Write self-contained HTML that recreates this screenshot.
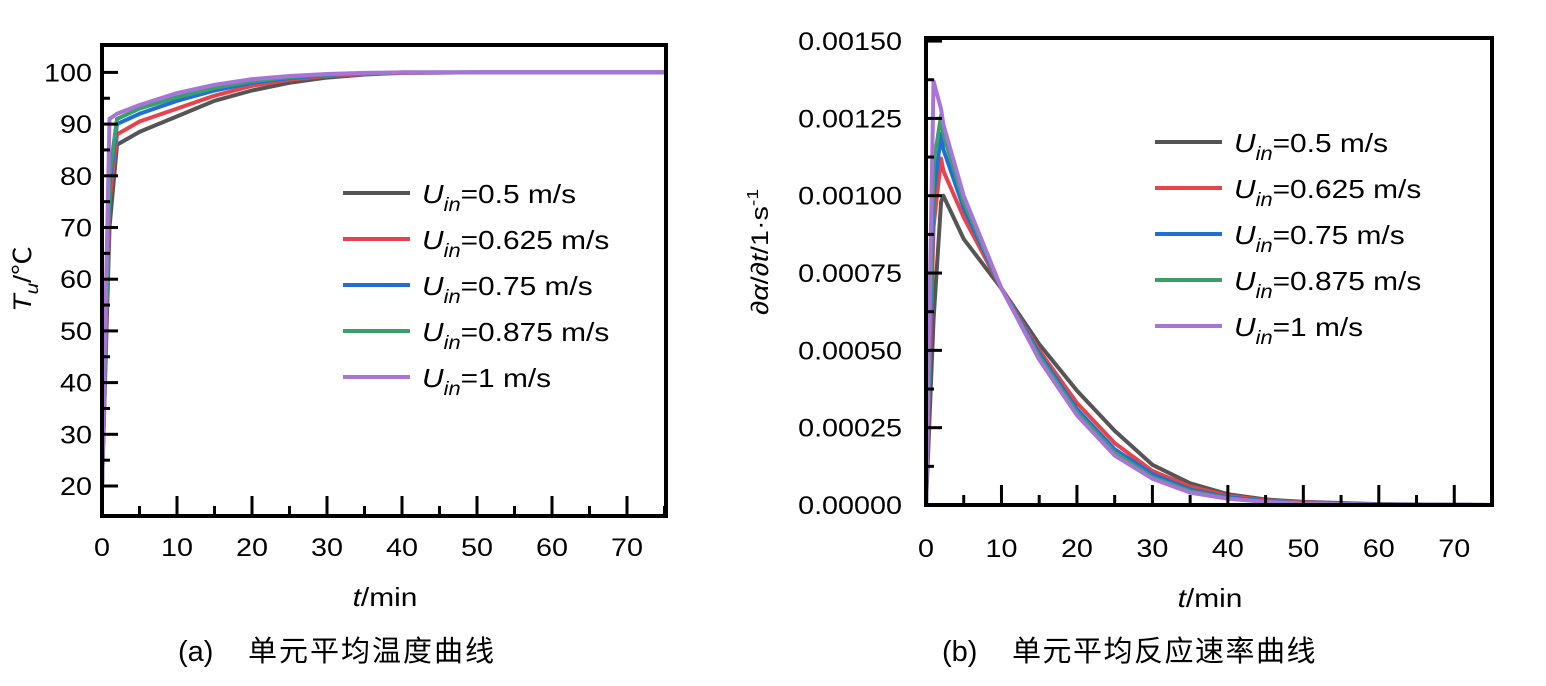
<!DOCTYPE html>
<html><head><meta charset="utf-8">
<style>
body{margin:0;background:#fff;}
svg{display:block;font-family:"Liberation Sans","Noto Sans CJK SC",sans-serif;}
</style></head>
<body>
<svg id="chart" width="1546" height="686" viewBox="0 0 1546 686" xmlns="http://www.w3.org/2000/svg">
<g id="left"></g>
<g id="right"></g>
</svg>
<script>
const NS="http://www.w3.org/2000/svg";
const seriesNames=["0.5","0.625","0.75","0.875","1"];
const colors=["#555555","#e8434a","#1f6fd6","#3a9f6a","#a874d8"];
// Left chart data
const tTimes=[0,1,2,5,10,15,20,25,30,35,40,50,60,75];
const tGray=[20,70,86,88.5,91.5,94.5,96.5,98,99,99.6,99.9,100,100,100];
const tRed=[20,75,88,90.5,93,95.5,97.4,98.6,99.3,99.7,99.9,100,100,100];
const tBlue=[20,78,90,92,94.5,96.5,98,98.9,99.5,99.8,100,100,100,100];
const tGreen=[20,80,91,93,95.2,97,98.3,99.1,99.6,99.8,100,100,100,100];
const tPurple=[20,91,92,93.7,96,97.6,98.7,99.3,99.7,99.9,100,100,100,100];
const tSeries=[tGray,tRed,tBlue,tGreen,tPurple];
const tXTicks=[0,10,20,30,40,50,60,70];
const tYTicks=[20,30,40,50,60,70,80,90,100];
// Right chart data
const rTimes=[0,1,2,2.3,5,10,15,20,25,30,35,40,45,50,60,75];
const rGray=[0,0.0006,0.00098,0.001,0.00086,0.0007,0.00052,0.00037,0.00024,0.00013,0.00007,0.000035,0.000018,0.00001,0.000003,0];
const rRed=[0,0.0009,0.00112,0.00108,0.00093,0.0007,0.0005,0.00033,0.0002,0.00011,0.00006,0.00003,0.000015,0.000008,0.000002,0];
const rBlue=[0,0.001,0.0012,0.00115,0.00096,0.0007,0.00049,0.00031,0.00018,0.0001,0.00005,0.000025,0.000012,0.000006,0.000002,0];
const rGreen=[0,0.0011,0.00126,0.0012,0.00098,0.0007,0.00048,0.0003,0.00017,0.00009,0.000045,0.000022,0.00001,0.000005,0.000001,0];
const rPurple=[0,0.00137,0.00128,0.00123,0.001,0.0007,0.00047,0.00029,0.00016,0.000085,0.00004,0.00002,0.00001,0.000005,0.000001,0];
const rSeries=[rGray,rRed,rBlue,rGreen,rPurple];
const rXTicks=[0,10,20,30,40,50,60,70];
const rYTicks=[0,0.00025,0.0005,0.00075,0.001,0.00125,0.0015];
const rYLabels=["0.00000","0.00025","0.00050","0.00075","0.00100","0.00125","0.00150"];

const SX=1.15;
function el(tag,attrs,parent,text){const e=document.createElementNS(NS,tag);for(const k in attrs)e.setAttribute(k,attrs[k]);if(text!==undefined)e.textContent=text;parent.appendChild(e);return e;}
function stxt(parent,x,y,attrs,text){attrs.x=0;attrs.y=0;attrs.transform='translate('+x+','+y+') scale('+SX+',1)';return el('text',attrs,parent,text);}

function drawChart(g,cfg){
  const {x0,x1,y0,y1,xmin,xmax,ymin,ymax}=cfg;
  const X=v=>x0+(v-xmin)/(xmax-xmin)*(x1-x0);
  const Y=v=>y1-(v-ymin)/(ymax-ymin)*(y1-y0);
  cfg.series.forEach((s,i)=>{
    const p=el('polyline',{points:cfg.times.map((t,j)=>X(t)+','+Y(s[j])).join(' '),fill:'none',stroke:colors[i],'stroke-width':4,'stroke-linejoin':'round'},g);
    
    
  });
  const f=el('rect',{x:x0,y:y0,width:x1-x0,height:y1-y0,fill:'none',stroke:'#000','stroke-width':4},g);
  
  
  for(let v=0;v<=xmax;v+=5){
    const major=v%10===0;
    const t=el('line',{x1:X(v),x2:X(v),y1:y1,y2:y1-(major?20:10),stroke:'#000','stroke-width':3},g);
    
    
  }
  cfg.xticks.forEach(v=>{
    const t=stxt(g,X(v),y1+cfg.xlOff,{'font-size':25,'text-anchor':'middle'},String(v));
    
    
  });
  cfg.yticks.forEach((v,i)=>{
    const t=el('line',{x1:x0,x2:x0+16,y1:Y(v),y2:Y(v),stroke:'#000','stroke-width':3},g);
    
    
    if(i<cfg.yticks.length-1){
      const m=(v+cfg.yticks[i+1])/2;
      const mt=el('line',{x1:x0,x2:x0+8,y1:Y(m),y2:Y(m),stroke:'#000','stroke-width':3},g);
      
      
    }
    const l=stxt(g,x0-cfg.ylGap,Y(v)+9,{'font-size':25,'text-anchor':'end'},cfg.ylabels?cfg.ylabels[i]:String(v));
    
    
  });
  seriesNames.forEach((n,i)=>{
    const ly=cfg.ly+i*46;
    const lg=el('g',{},g);
    
    
    el('line',{x1:cfg.lx,x2:cfg.lx+67,y1:ly,y2:ly,stroke:colors[i],'stroke-width':4},lg);
    const t=stxt(lg,cfg.lx+79,ly+10,{'font-size':26});
    el('tspan',{'font-style':'italic'},t,'U');
    el('tspan',{'font-style':'italic','font-size':19,dy:8},t,'in');
    el('tspan',{dy:-8},t,'='+n+' m/s');
  });
}
const L=document.getElementById('left');
drawChart(L,{x0:102,x1:666,y0:45,y1:516,xmin:0,xmax:75.2,ymin:14.2,ymax:105.3,times:tTimes,series:tSeries,xticks:tXTicks,yticks:tYTicks,lx:343,ly:193,xlOff:40,ylGap:10});
const R=document.getElementById('right');
drawChart(R,{x0:926,x1:1492,y0:38,y1:505,xmin:0,xmax:75,ymin:0,ymax:0.00151,times:rTimes,series:rSeries,xticks:rXTicks,yticks:rYTicks,ylabels:rYLabels,lx:1155,ly:142,xlOff:52,ylGap:24});

function txt(parent,attrs,name,html){const t=el('text',attrs,parent);t.innerHTML=html;return t;}
const S=document.getElementById('chart');
txt(S,{x:0,y:0,'font-size':26,'text-anchor':'middle',transform:'translate(385,606) scale(1.15,1)'},'x-axis-title','<tspan font-style="italic">t</tspan>/min');
txt(S,{x:0,y:0,'font-size':26,'text-anchor':'middle',transform:'translate(1210,607) scale(1.15,1)'},'x-axis-title-b','<tspan font-style="italic">t</tspan>/min');
txt(S,{x:0,y:0,'font-size':25,'text-anchor':'middle',transform:'translate(31,279) rotate(-90) scale(1.15,1)'},'y-axis-title','<tspan font-style="italic">T</tspan><tspan font-style="italic" font-size="18" dy="7">u</tspan><tspan dy="-7">/℃</tspan>');
txt(S,{x:0,y:0,'font-size':24,'text-anchor':'middle',transform:'translate(768,252) rotate(-90) scale(1.2,1)'},'y-axis-title-b','∂<tspan font-style="italic">α</tspan>/∂<tspan font-style="italic">t</tspan>/1·s<tspan font-size="16" dy="-10">-1</tspan>');
txt(S,{x:178,y:661,'font-size':29},'caption-a-label','(a)');
txt(S,{x:248,y:661,'font-size':29,'letter-spacing':2},'caption-a','单元平均温度曲线');
txt(S,{x:942,y:661,'font-size':29},'caption-b-label','(b)');
txt(S,{x:1012,y:661,'font-size':29,'letter-spacing':1.5},'caption-b','单元平均反应速率曲线');
</script>
</body></html>
